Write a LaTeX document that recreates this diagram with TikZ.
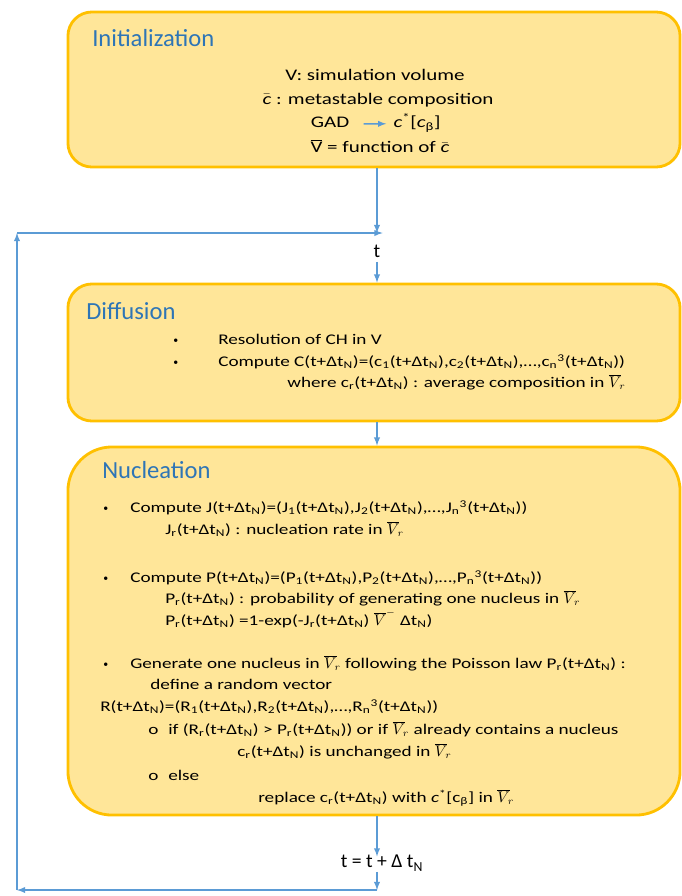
\documentclass[tikz,border=0pt]{standalone}
\usepackage{fontspec}
\setmainfont{Carlito}
\newfontfamily\bodyfont{Carlito}[FakeStretch=1.3]
\usepackage{amsmath}
\usetikzlibrary{calc}
\definecolor{boxfill}{HTML}{FFE699}
\definecolor{boxline}{HTML}{FFC000}
\definecolor{headblue}{HTML}{2E75B6}
\definecolor{flowblue}{HTML}{5B9BD5}
\newcommand{\tN}{t+Δt\textsubscript{N}}
\newcommand{\Vr}{$\overline{V}_{\!r}$}
\newcommand{\nn}{\textsubscript{n}\textsuperscript{3}}
\newcommand{\cbar}{$\bar{\text{\itshape c}}$}
\newcommand{\Vbar}{$\overline{\text{V}}$}

\begin{document}
\begin{tikzpicture}[x=0.025cm, y=-0.025cm,
    box/.style={draw=boxline, fill=boxfill, line width=2pt, minimum width=15.3cm},
    head/.style={anchor=west, inner sep=0, text=headblue, font=\fontsize{17.5}{19}\selectfont},
    ctxt/.style={inner sep=0, yshift=-1.5pt, text height=8pt, text depth=2.5pt, font=\bodyfont\fontsize{11.5}{13}\selectfont},
    txt/.style={anchor=west, inner sep=0, yshift=-1.5pt, text height=7.5pt, text depth=2.5pt, font=\bodyfont\fontsize{10.5}{12}\selectfont},
    dot/.style={anchor=west, inner sep=0, yshift=-1.5pt, font=\fontsize{7}{8}\selectfont},
    flow/.style={draw=flowblue, line width=1pt, -latex}]
        \useasboundingbox (0,0) rectangle (682,896);

        % the three stages
        \node (init) [box, rounded corners=0.6cm, minimum height=3.875cm] at (374,89.5) {};
        \node (diff) [box, rounded corners=0.6cm, minimum height=3.425cm] at (374,352.5) {};
        \node (nucl) [box, rounded corners=1.1cm, minimum height=9.2cm] at (374,631) {};

        \node (inith) [head] at (92,38) {Initialization};
        \node (diffh) [head] at (86,311) {Diffusion};
        \node (nuclh) [head] at (102,470) {Nucleation};

        % initialization
        \node (i1) [ctxt] at (375,75) {V: simulation volume};
        \node (i2) [ctxt] at (378,98.5) {\cbar{} : metastable composition};
        \node (gad) [ctxt] at (330,122) {GAD};
        \node (cst) [ctxt] at (417,121.5) {\textit{c}\textsuperscript{*}[\textit{c}\textsubscript{β}]};
        \node (i4) [ctxt] at (380,147) {\Vbar{} = function of \cbar};

        % diffusion
        \node (d1b) [dot] at (173,339) {•};
        \node (d1) [txt] at (218,339) {Resolution of CH in V};
        \node (d2b) [dot] at (173,361) {•};
        \node (d2) [txt] at (218,361) {Compute C(\tN)=(c\textsubscript{1}(\tN),c\textsubscript{2}(\tN),…,c\nn(\tN))};
        \node (d3) [txt] at (287,382) {where c\textsubscript{r}(\tN) : average composition in \Vr};

        % nucleation
        \node (n1b) [dot] at (103,507) {•};
        \node (n1) [txt] at (130,507) {Compute J(\tN)=(J\textsubscript{1}(\tN),J\textsubscript{2}(\tN),…,J\nn(\tN))};
        \node (n2) [txt] at (165,529) {J\textsubscript{r}(\tN) : nucleation rate in \Vr};
        \node (n3b) [dot] at (103,577) {•};
        \node (n3) [txt] at (130,577) {Compute P(\tN)=(P\textsubscript{1}(\tN),P\textsubscript{2}(\tN),…,P\nn(\tN))};
        \node (n4) [txt] at (165,598) {P\textsubscript{r}(\tN) : probability of generating one nucleus in \Vr};
        \node (n5) [txt] at (165,620) {P\textsubscript{r}(\tN) =1-exp(-J\textsubscript{r}(\tN) $\overline{V}^{-}$ Δt\textsubscript{N})};
        \node (n6b) [dot] at (103,663) {•};
        \node (n6) [txt] at (130,663) {Generate one nucleus in \Vr{} following the Poisson law P\textsubscript{r}(\tN) :};
        \node (n7) [txt] at (150,684) {define a random vector};
        \node (n8) [txt] at (100,706) {R(\tN)=(R\textsubscript{1}(\tN),R\textsubscript{2}(\tN),…,R\nn(\tN))};
        \node (n9b) [txt] at (148,729) {o};
        \node (n9) [txt] at (168,729) {if (R\textsubscript{r}(\tN) > P\textsubscript{r}(\tN)) or if \Vr{} already contains a nucleus};
        \node (n10) [txt] at (237,751) {c\textsubscript{r}(\tN) is unchanged in \Vr};
        \node (n11b) [txt] at (148,775) {o};
        \node (n11) [txt] at (168,775) {else};
        \node (n12) [txt] at (258,797) {replace c\textsubscript{r}(\tN) with \textit{c}\textsuperscript{*}[c\textsubscript{β}] in \Vr};

        % time
        \node (t) [ctxt, font=\fontsize{14}{16}\selectfont] at (377,252) {t};
        \node (tup) [ctxt, font=\fontsize{14}{16}\selectfont] at (382,862) {t = t + Δ t\textsubscript{N}};

        \coordinate (top) at (377,233);
        \coordinate (topl) at (17,233);
        \coordinate (bot) at (377,890);
        \coordinate (botl) at (17,890);

        \draw[flow, shorten <=10pt, shorten >=5pt] (gad) -- (cst);
        \draw[flow] (init.south -| top) -- (top);
        \draw[flow] (topl) -- ([xshift=4]top);
        \draw[flow] (t) -- (diff.north -| t);
        \draw[flow] (diff.south -| t) -- (nucl.north -| t);
        \draw[flow] (nucl.south -| t) -- (tup.north -| t);
        \draw[flow] (tup.south -| t) -- (bot);
        \draw[flow] (bot) -- (botl);
        \draw[flow] (botl) -- (topl);
\end{tikzpicture}
\end{document}
